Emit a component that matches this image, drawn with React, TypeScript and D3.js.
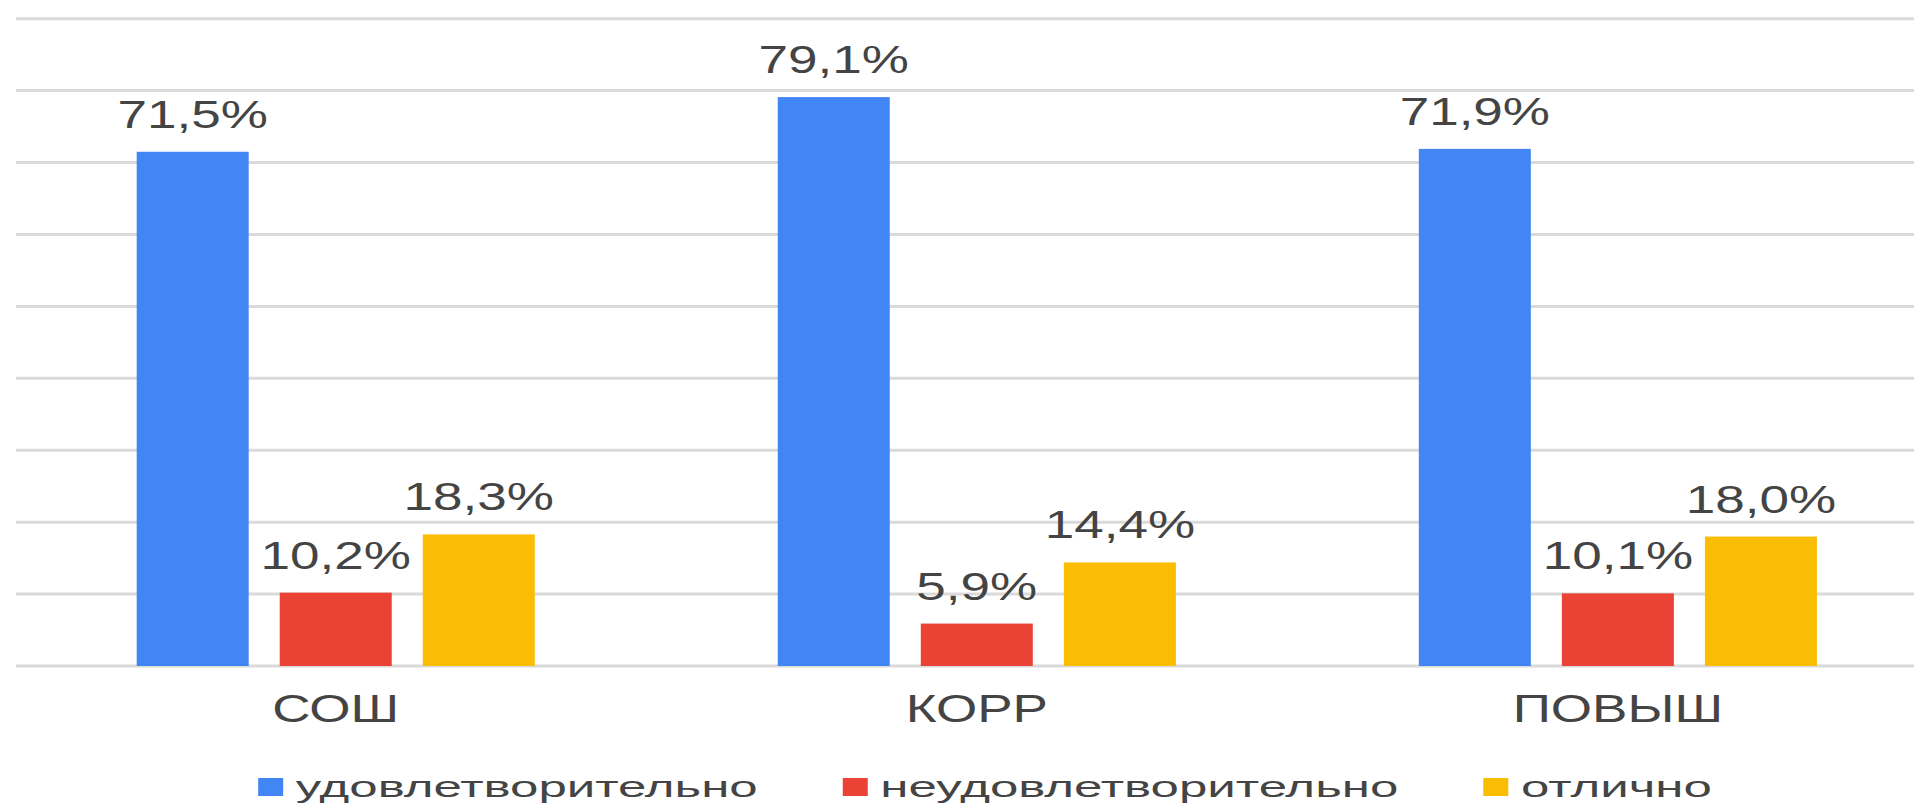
import React, { useEffect, useRef } from 'react';
import * as d3 from 'd3';

const categories = ['СОШ', 'КОРР', 'ПОВЫШ'];
const seriesNames = ['удовлетворительно', 'неудовлетворительно', 'отлично'];
const satisfactory = [71.5, 79.1, 71.9];
const unsatisfactory = [10.2, 5.9, 10.1];
const excellent = [18.3, 14.4, 18.0];
const yTicks = [0, 10, 20, 30, 40, 50, 60, 70, 80, 90];
const seriesColors = ['#4285F4', '#EA4335', '#FBBC04'];

const W = 1914;
const H = 807;
const FONT = '"Liberation Sans", Arial, sans-serif';
const TEXT_COLOR = '#444444';
const LABEL_SIZE = 39;
const LABEL_SX = 1.36;
const LEGEND_SIZE = 29;
const LEGEND_SX = 1.76;

const fmt = (v: number) => v.toFixed(1).replace('.', ',') + '%';

export default function App() {
  const ref = useRef<SVGSVGElement | null>(null);

  useEffect(() => {
    const svg = d3.select(ref.current);
    svg.selectAll('*').remove();

    const seriesValues = [satisfactory, unsatisfactory, excellent];
    const rows = categories.map((c, i) => ({
      cat: c,
      vals: seriesNames.map((s, j) => ({ key: s, value: seriesValues[j][i], color: seriesColors[j] })),
    }));

    const y = d3.scaleLinear().domain([0, 90]).range([666, 18.7]);
    const x0 = d3.scaleBand<string>().domain(categories).range([15.2, 1938.4]).paddingInner(0.379).paddingOuter(0.1895);
    const x1 = d3.scaleBand<string>().domain(seriesNames).range([0, x0.bandwidth()]).paddingInner(0.217).paddingOuter(0);

    // gridlines
    svg.append('g')
      .selectAll('line')
      .data(yTicks)
      .join('line')
      .attr('x1', 16)
      .attr('x2', W)
      .attr('y1', (d) => y(d))
      .attr('y2', (d) => y(d))
      .attr('stroke', '#dadada')
      .attr('stroke-width', 3);

    const groups = svg.append('g')
      .selectAll('g')
      .data(rows)
      .join('g')
      .attr('transform', (d) => `translate(${x0(d.cat)},0)`);

    groups.selectAll('rect')
      .data((d) => d.vals)
      .join('rect')
      .attr('x', (d) => x1(d.key)!)
      .attr('width', x1.bandwidth())
      .attr('y', (d) => y(d.value))
      .attr('height', (d) => y(0) - y(d.value))
      .attr('fill', (d) => d.color);

    groups.selectAll('text.val')
      .data((d) => d.vals)
      .join('text')
      .attr('class', 'val')
      .attr('transform', (d) => `translate(${x1(d.key)! + x1.bandwidth() / 2},${y(d.value) - 24}) scale(${LABEL_SX},1)`)
      .attr('text-anchor', 'middle')
      .attr('font-family', FONT)
      .attr('font-size', LABEL_SIZE)
      .attr('fill', TEXT_COLOR)
      .text((d) => fmt(d.value));

    // category labels
    svg.append('g')
      .selectAll('text')
      .data(categories)
      .join('text')
      .attr('transform', (d) => `translate(${x0(d)! + x0.bandwidth() / 2},722) scale(${LABEL_SX},1)`)
      .attr('text-anchor', 'middle')
      .attr('font-family', FONT)
      .attr('font-size', LABEL_SIZE)
      .attr('fill', TEXT_COLOR)
      .text((d) => d);

    // legend
    const legend = svg.append('g');
    const items = legend.selectAll('g')
      .data(seriesNames.map((s, j) => ({ name: s, color: seriesColors[j] })))
      .join('g');
    items.append('rect')
      .attr('width', 25)
      .attr('height', 18)
      .attr('y', 778)
      .attr('fill', (d) => d.color);
    items.append('text')
      .attr('font-family', FONT)
      .attr('font-size', LEGEND_SIZE)
      .attr('fill', TEXT_COLOR)
      .attr('transform', `translate(37.6,796.5) scale(${LEGEND_SX},1)`)
      .text((d) => d.name);

    const widths: number[] = [];
    items.select('text').each(function () {
      widths.push((this as SVGTextElement).getComputedTextLength() * LEGEND_SX);
    });
    const itemW = widths.map((w) => 37.6 + w);
    const gap = 85;
    const total = d3.sum(itemW) + gap * (itemW.length - 1);
    let cx = 985 - total / 2;
    items.each(function (_, i) {
      d3.select(this).attr('transform', `translate(${cx},0)`);
      cx += itemW[i] + gap;
    });
  }, []);

  return (
    <svg
      ref={ref}
      width={W}
      height={H}
      style={{ position: 'absolute', left: 0, top: 0, background: '#ffffff' }}
    />
  );
}
